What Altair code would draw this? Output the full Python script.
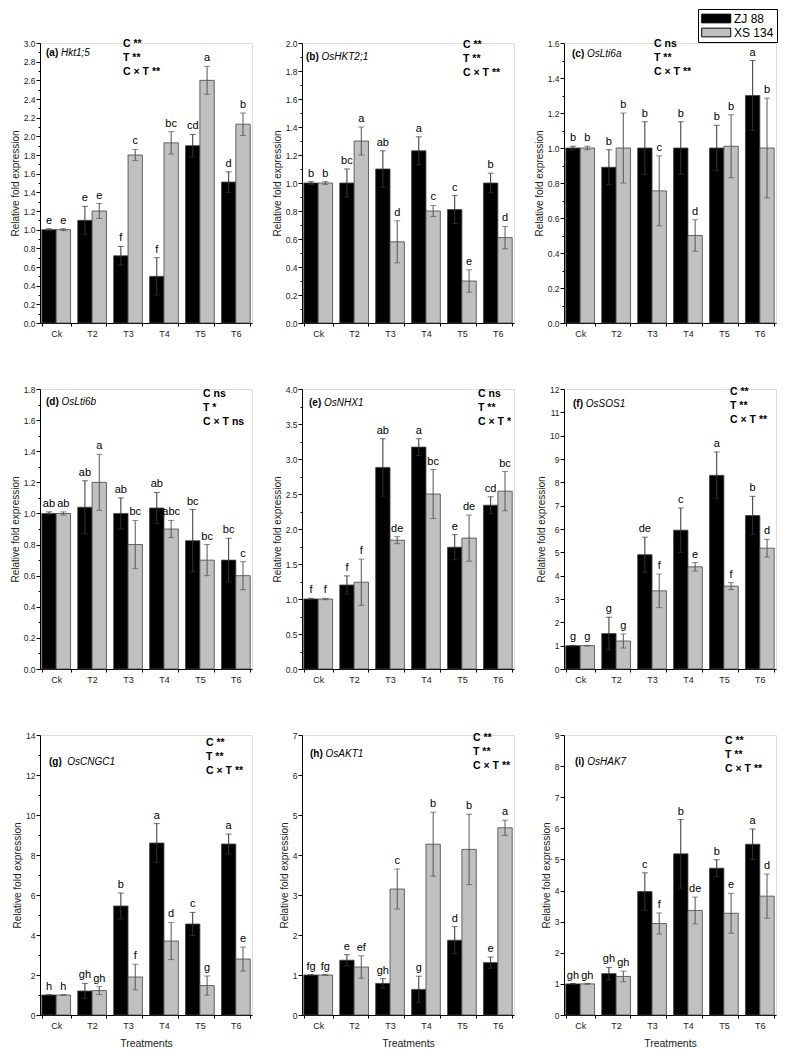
import altair as alt
import pandas as pd

treatments = ["Ck", "T2", "T3", "T4", "T5", "T6"]
cultivars = ["ZJ 88", "XS 134"]
y_title = "Relative fold expression"

# (a) Hkt1;5
a_zj = [1.00, 1.10, 0.72, 0.50, 1.90, 1.51]
a_zj_err = [0.01, 0.15, 0.10, 0.20, 0.12, 0.11]
a_xs = [1.00, 1.20, 1.80, 1.93, 2.60, 2.13]
a_xs_err = [0.01, 0.08, 0.06, 0.12, 0.15, 0.12]
a_zj_let = ["e", "e", "f", "f", "cd", "d"]
a_xs_let = ["e", "e", "c", "bc", "a", "b"]

# (b) OsHKT2;1
b_zj = [1.00, 1.00, 1.10, 1.23, 0.81, 1.00]
b_zj_err = [0.01, 0.10, 0.13, 0.10, 0.10, 0.07]
b_xs = [1.00, 1.30, 0.58, 0.80, 0.30, 0.61]
b_xs_err = [0.01, 0.10, 0.15, 0.04, 0.08, 0.08]
b_zj_let = ["b", "bc", "ab", "a", "c", "b"]
b_xs_let = ["b", "a", "d", "c", "e", "d"]

# (c) OsLti6a
c_zj = [1.00, 0.89, 1.00, 1.00, 1.00, 1.30]
c_zj_err = [0.01, 0.10, 0.15, 0.15, 0.13, 0.20]
c_xs = [1.00, 1.00, 0.755, 0.50, 1.01, 1.00]
c_xs_err = [0.01, 0.20, 0.20, 0.09, 0.18, 0.285]
c_zj_let = ["b", "b", "b", "b", "b", "a"]
c_xs_let = ["b", "b", "c", "d", "b", "b"]

# (d) OsLti6b
d_zj = [1.00, 1.04, 1.00, 1.035, 0.825, 0.70]
d_zj_err = [0.01, 0.17, 0.10, 0.10, 0.20, 0.14]
d_xs = [1.00, 1.20, 0.80, 0.90, 0.70, 0.60]
d_xs_err = [0.01, 0.18, 0.155, 0.055, 0.10, 0.09]
d_zj_let = ["ab", "ab", "ab", "ab", "bc", "bc"]
d_xs_let = ["ab", "a", "bc", "abc", "bc", "c"]

# (e) OsNHX1
e_zj = [1.00, 1.20, 2.88, 3.17, 1.74, 2.34]
e_zj_err = [0.01, 0.13, 0.41, 0.12, 0.18, 0.12]
e_xs = [1.00, 1.24, 1.84, 2.50, 1.87, 2.54]
e_xs_err = [0.01, 0.33, 0.05, 0.35, 0.33, 0.28]
e_zj_let = ["f", "f", "ab", "a", "e", "cd"]
e_xs_let = ["f", "f", "de", "bc", "de", "bc"]

# (f) OsSOS1
f_zj = [1.00, 1.52, 4.90, 5.95, 8.30, 6.58]
f_zj_err = [0.01, 0.70, 0.75, 0.95, 1.00, 0.82]
f_xs = [1.00, 1.20, 3.35, 4.38, 3.55, 5.18]
f_xs_err = [0.01, 0.30, 0.72, 0.18, 0.15, 0.38]
f_zj_let = ["g", "g", "de", "c", "a", "b"]
f_xs_let = ["g", "g", "f", "e", "f", "d"]

# (g) OsCNGC1
g_zj = [1.00, 1.20, 5.45, 8.60, 4.55, 8.55]
g_zj_err = [0.01, 0.38, 0.65, 0.97, 0.58, 0.50]
g_xs = [1.00, 1.22, 1.90, 3.70, 1.47, 2.80]
g_xs_err = [0.01, 0.20, 0.64, 0.93, 0.48, 0.60]
g_zj_let = ["h", "gh", "b", "a", "c", "a"]
g_xs_let = ["h", "gh", "f", "d", "g", "e"]

# (h) OsAKT1
h_zj = [1.00, 1.37, 0.79, 0.64, 1.87, 1.31]
h_zj_err = [0.01, 0.14, 0.12, 0.33, 0.34, 0.14]
h_xs = [1.00, 1.20, 3.15, 4.27, 4.14, 4.68]
h_xs_err = [0.01, 0.28, 0.50, 0.80, 0.88, 0.19]
h_zj_let = ["fg", "e", "gh", "g", "d", "e"]
h_xs_let = ["fg", "ef", "c", "b", "b", "a"]

# (i) OsHAK7
i_zj = [1.00, 1.33, 3.97, 5.18, 4.72, 5.49]
i_zj_err = [0.01, 0.20, 0.60, 1.10, 0.27, 0.49]
i_xs = [1.00, 1.24, 2.94, 3.36, 3.27, 3.82]
i_xs_err = [0.01, 0.17, 0.34, 0.43, 0.64, 0.71]
i_zj_let = ["gh", "gh", "c", "b", "b", "a"]
i_xs_let = ["gh", "gh", "f", "de", "e", "d"]

FONT = "Liberation Sans"
W, H = 212, 280

bold_w = {"a": 0.556, "b": 0.611, "c": 0.556, "d": 0.611, "e": 0.556,
          "f": 0.333, "g": 0.611, "h": 0.611, "i": 0.278}

legend = alt.Legend(
    title=None, orient="none", legendX=658, legendY=-34,
    symbolType="M-1,-0.75H4V0.75H-1Z", symbolSize=135,
    symbolStrokeColor="black", symbolStrokeWidth=1, symbolOpacity=1,
    labelFont=FONT, labelFontSize=12, labelColor="black",
    strokeColor="black", fillColor="white", padding=3, rowPadding=1,
    labelOffset=20,
)


def panel(tag, gene, zj, zje, xs, xse, zjl, xsl, ymax, step, fmt,
          stats, lx, ly, sx, sy, xtitle=None, spaces=1):
    rows = []
    for k, t in enumerate(treatments):
        rows.append(dict(treat=t, cult="ZJ 88", val=zj[k], err=zje[k], let=zjl[k]))
        rows.append(dict(treat=t, cult="XS 134", val=xs[k], err=xse[k], let=xsl[k]))
    df = pd.DataFrame(rows)
    df["lo"] = df["val"] - df["err"]
    df["hi"] = df["val"] + df["err"]

    minor = step / 2
    n = int(round(ymax / minor))
    vals = [round(k * minor, 4) for k in range(n + 1)]
    test = f"abs(datum.value/{step} - round(datum.value/{step})) < 0.001"

    yaxis = alt.Axis(
        values=vals, tickCount=200, title=y_title, format=fmt,
        labelExpr=f"({test}) ? datum.label : ''",
        labelOverlap=False, labelFlush=False,
        tickSize={"condition": {"test": test, "value": 4}, "value": 2},
        grid=False, domainColor="black", tickColor="black",
        labelFont=FONT, labelFontSize=8.5, labelColor="#222", labelPadding=1,
        titleFont=FONT, titleFontSize=10, titleFontWeight="normal",
        titleColor="#222", titlePadding=3,
    )
    xaxis = alt.Axis(
        title=xtitle, labelAngle=0, tickBand="extent", tickSize=3,
        domainColor="black", tickColor="black",
        labelFont=FONT, labelFontSize=9, labelColor="#222", labelPadding=3,
        titleFont=FONT, titleFontSize=10.5, titleFontWeight="normal",
        titleColor="#222", titlePadding=8,
    )
    x = alt.X("treat:N", sort=treatments, axis=xaxis,
              scale=alt.Scale(paddingInner=0.2, paddingOuter=0.05))
    xo = alt.XOffset("cult:N", sort=cultivars,
                     scale=alt.Scale(domain=cultivars, paddingInner=0, paddingOuter=0))
    yscale = alt.Scale(domain=[0, ymax], nice=False, zero=True)

    base = alt.Chart(df)
    bars = base.mark_bar(stroke="#444", strokeWidth=0.8).encode(
        x=x, xOffset=xo,
        y=alt.Y("val:Q", scale=yscale, axis=yaxis),
        color=alt.Color("cult:N", sort=cultivars,
                        scale=alt.Scale(domain=cultivars, range=["#000000", "#c0c0c0"]),
                        legend=legend),
    )
    ecol = alt.condition(alt.datum.cult == "ZJ 88", alt.value("#333"), alt.value("#555"))
    rule = base.mark_rule(strokeWidth=1).encode(
        x=x, xOffset=xo, y=alt.Y("lo:Q"), y2="hi:Q", color=ecol)
    cap_hi = base.mark_tick(thickness=1, size=6, orient="horizontal").encode(
        x=x, xOffset=xo, y=alt.Y("hi:Q"), color=ecol)
    cap_lo = base.mark_tick(thickness=1, size=6, orient="horizontal").encode(
        x=x, xOffset=xo, y=alt.Y("lo:Q"), color=ecol)
    letters = base.mark_text(font=FONT, fontSize=11, baseline="bottom", dy=-3,
                             color="black").encode(
        x=x, xOffset=xo, y=alt.Y("hi:Q"), text="let:N")

    lab_df = pd.DataFrame({"t": [tag]})
    fs = 10
    tag_w = (0.333 * 2 + bold_w[tag.strip("()")] + 0.278 * spaces) * fs
    tag_txt = alt.Chart(lab_df).mark_text(
        font=FONT, fontSize=fs, fontWeight="bold", align="left",
        baseline="middle", color="black").encode(
        x=alt.value(lx), y=alt.value(ly), text=alt.value(tag))
    gene_txt = alt.Chart(lab_df).mark_text(
        font=FONT, fontSize=fs, fontStyle="italic", align="left",
        baseline="middle", color="black").encode(
        x=alt.value(lx + tag_w), y=alt.value(ly), text=alt.value(gene))
    stat_lines = [f"C  {stats[0]}", f"T  {stats[1]}", f"C \u00d7 T  {stats[2]}"]
    stat_layers = []
    for j, line in enumerate(stat_lines):
        stat_layers.append(alt.Chart(lab_df).mark_text(
            font=FONT, fontSize=10.5, fontWeight="bold", align="left",
            baseline="middle", color="black").encode(
            x=alt.value(sx), y=alt.value(sy + 4 + 14 * j), text=alt.value(line)))

    return alt.layer(bars, rule, cap_hi, cap_lo, letters, tag_txt, gene_txt,
                     *stat_layers).properties(width=W, height=H)


pa = panel("(a)", "Hkt1;5", a_zj, a_zj_err, a_xs, a_xs_err, a_zj_let, a_xs_let,
           3.0, 0.2, ".1f", ["**", "**", "**"], 6, 10, 83, -3)
pb = panel("(b)", "OsHKT2;1", b_zj, b_zj_err, b_xs, b_xs_err, b_zj_let, b_xs_let,
           2.0, 0.2, ".1f", ["**", "**", "**"], 4, 14, 161, -2)
pc = panel("(c)", "OsLti6a", c_zj, c_zj_err, c_xs, c_xs_err, c_zj_let, c_xs_let,
           1.6, 0.2, ".1f", ["ns", "**", "**"], 8, 11, 90, -3)
pd_ = panel("(d)", "OsLti6b", d_zj, d_zj_err, d_xs, d_xs_err, d_zj_let, d_xs_let,
            1.8, 0.2, ".1f", ["ns", "*", "ns"], 6, 13, 163, 1)
pe = panel("(e)", "OsNHX1", e_zj, e_zj_err, e_xs, e_xs_err, e_zj_let, e_xs_let,
           4.0, 0.5, ".1f", ["ns", "**", "*"], 7, 14, 176, 1)
pf = panel("(f)", "OsSOS1", f_zj, f_zj_err, f_xs, f_xs_err, f_zj_let, f_xs_let,
           12, 1, "d", ["**", "**", "**"], 9, 15, 166, -1)
pg = panel("(g)", "OsCNGC1", g_zj, g_zj_err, g_xs, g_xs_err, g_zj_let, g_xs_let,
           14, 2, "d", ["**", "**", "**"], 9, 27, 166, 4, xtitle="Treatments", spaces=2)
ph = panel("(h)", "OsAKT1", h_zj, h_zj_err, h_xs, h_xs_err, h_zj_let, h_xs_let,
           7, 1, "d", ["**", "**", "**"], 8, 19, 171, -1, xtitle="Treatments")
pi = panel("(i)", "OsHAK7", i_zj, i_zj_err, i_xs, i_xs_err, i_zj_let, i_xs_let,
           9, 1, "d", ["**", "**", "**"], 11, 27, 161, 2, xtitle="Treatments")

chart = alt.concat(pa, pb, pc, pd_, pe, pf, pg, ph, pi, columns=3,
                   spacing={"row": 66, "column": 50}, bounds="flush").properties(
    padding={"left": 1, "top": 0, "right": 0, "bottom": 0}
).resolve_scale(y="independent", x="independent").configure_view(
    stroke=None).configure(background="white")

chart.save("out.html", embed_options={"renderer": "svg", "actions": False})
